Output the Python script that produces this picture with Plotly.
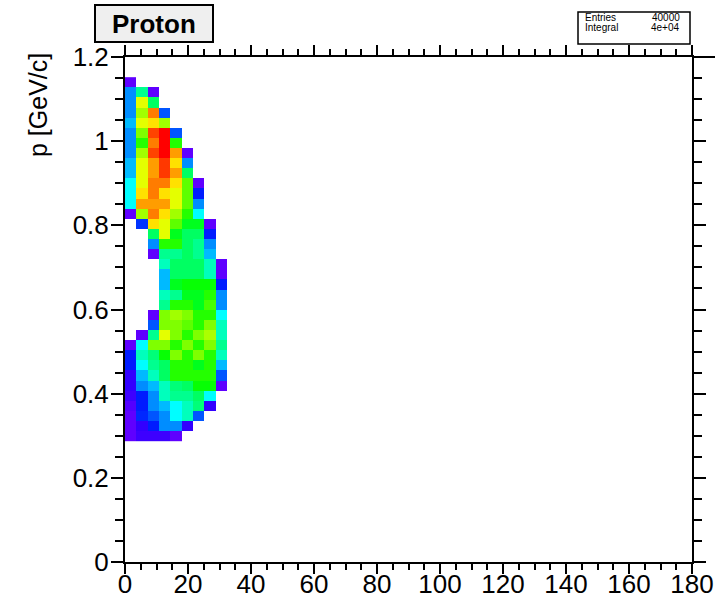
import colorsys
import plotly.graph_objects as go

# ---------------- data ----------------
x_edges_start = 0.0
x_bin_width = 3.6          # 50 bins over 0..180
y_bin_width = 0.024        # 50 bins over 0..1.2
first_y_bin = 12           # lowest filled row (bin index)
n_x_bins_shown = 9

N = None
# counts per cell, rows listed from the TOP row (bin 47) down to bin 12
counts_top_down = [
    [1, N, N, N, N, N, N, N, N],
    [22, 42, 1, N, N, N, N, N, N],
    [22, 75, 46, N, N, N, N, N, N],
    [22, 69, 89, 17, N, N, N, N, N],
    [26, 75, 80, 69, N, N, N, N, N],
    [22, 66, 94, 100, 17, N, N, N, N],
    [22, 58, 89, 100, 58, N, N, N, N],
    [22, 69, 94, 100, 86, 1, N, N, N],
    [26, 75, 86, 95, 80, 22, N, N, N],
    [26, 75, 86, 95, 86, 46, N, N, N],
    [32, 75, 89, 89, 80, 63, 1, N, N],
    [32, 80, 89, 80, 75, 63, 12, N, N],
    [32, 86, 86, 86, 75, 63, 22, N, N],
    [1, 69, 89, 80, 69, 58, 32, N, N],
    [N, 14, 80, 75, 63, 52, 52, 1, N],
    [N, N, 46, 75, 52, 46, 46, 12, N],
    [N, N, 22, 58, 58, 46, 42, 22, N],
    [N, N, 1, 42, 42, 46, 42, 26, N],
    [N, N, N, 38, 46, 46, 46, 38, 1],
    [N, N, N, 26, 46, 46, 46, 38, 1],
    [N, N, N, 26, 52, 55, 55, 55, 12],
    [N, N, N, 38, 42, 52, 52, 58, 22],
    [N, N, N, 42, 58, 58, 52, 61, 22],
    [N, N, 1, 66, 69, 66, 58, 58, 32],
    [N, N, 17, 66, 66, 63, 58, 66, 38],
    [N, 1, 42, 75, 66, 58, 66, 70, 38],
    [1, 32, 66, 66, 58, 66, 58, 66, 42],
    [12, 38, 44, 55, 66, 58, 66, 58, 38],
    [12, 32, 42, 46, 58, 58, 52, 58, 26],
    [5, 26, 38, 46, 58, 58, 58, 58, 17],
    [5, 22, 26, 38, 44, 46, 55, 55, 1],
    [4, 12, 22, 38, 42, 42, 46, 32, N],
    [2, 12, 22, 26, 32, 38, 44, 5, N],
    [1, 13, 17, 22, 32, 38, 17, N, N],
    [1, 5, 12, 22, 22, 5, N, N, N],
    [1, 4, 4, 4, 1, N, N, N, N],
]

title_text = "Proton"
y_title = "p [GeV/c]"
stats_labels = ["Entries", "Integral"]
stats_values = ["40000", "4e+04"]

x_range = [0, 180]
y_range = [0, 1.2]

# ---------------- build ----------------
z = list(reversed(counts_top_down))
n_rows = len(z)
x_centers = [x_edges_start + x_bin_width * (i + 0.5) for i in range(n_x_bins_shown)]
y_centers = [y_bin_width * (first_y_bin + j + 0.5) for j in range(n_rows)]

# ROOT-like "pretty palette": violet -> red by hue
colorscale = []
steps = 50
for k in range(steps + 1):
    t = k / steps
    hue = 265.0 * (1 - t) / 360.0
    r, g, b = colorsys.hls_to_rgb(hue, 0.5, 1.0)
    colorscale.append([t, f"rgb({int(r*255)},{int(g*255)},{int(b*255)})"])

W, H = 715, 603
L, R, T, B = 125, 23, 57, 41
pw = W - L - R
ph = H - T - B


def px(xp):
    return (xp - L) / pw


def py(yp):
    return 1 + (T - yp) / ph


fig = go.Figure()
fig.add_trace(go.Heatmap(
    x=x_centers, y=y_centers, z=z,
    colorscale=colorscale, zmin=0, zmax=100,
    showscale=False, hoverongaps=False, xgap=0, ygap=0,
))

tick_font = dict(family="Liberation Sans, Arial", size=26, color="black")

fig.update_xaxes(
    range=x_range, dtick=20, tick0=0, showgrid=False, zeroline=False,
    showline=True, linecolor="black", linewidth=2, mirror="ticks",
    ticks="outside", ticklen=10, tickwidth=2, tickcolor="black",
    minor=dict(dtick=5, ticks="outside", ticklen=6, tickwidth=1.5, tickcolor="black", showgrid=False),
    tickfont=tick_font, automargin=False, ticklabelstandoff=-12,
)
fig.update_yaxes(
    range=y_range, dtick=0.2, tick0=0, showgrid=False, zeroline=False,
    showline=True, linecolor="black", linewidth=2, mirror="ticks",
    ticks="outside", ticklen=12, tickwidth=2, tickcolor="black",
    minor=dict(dtick=0.05, ticks="outside", ticklen=8, tickwidth=1.5, tickcolor="black", showgrid=False),
    tickfont=tick_font, automargin=False, ticklabelstandoff=-3,
)

shapes = [
    # title box
    dict(type="rect", xref="paper", yref="paper",
         x0=px(95), x1=px(213), y0=py(42), y1=py(5),
         line=dict(color="black", width=2), fillcolor="#efefef", layer="above"),
    # stats box
    dict(type="rect", xref="paper", yref="paper",
         x0=px(578), x1=px(690), y0=py(44), y1=py(12),
         line=dict(color="black", width=1.5), fillcolor="white", layer="above"),
    # top frame line extension
    dict(type="line", xref="paper", yref="paper",
         x0=1, x1=px(715), y0=1, y1=1, line=dict(color="black", width=2)),
]

annotations = [
    dict(text=f"<b>{title_text}</b>", xref="paper", yref="paper",
         x=px(154), y=py(24), xanchor="center", yanchor="middle", showarrow=False,
         font=dict(family="Liberation Sans, Arial", size=26, color="black")),
    dict(text=y_title, xref="paper", yref="paper", textangle=-90,
         x=px(38), y=py(105), xanchor="center", yanchor="middle", showarrow=False,
         font=dict(family="Liberation Sans, Arial", size=25, color="black")),
]
for i, (lab, val) in enumerate(zip(stats_labels, stats_values)):
    yy = py(18 + 10 * i)
    annotations.append(dict(text=lab, xref="paper", yref="paper", x=px(583), y=yy,
                            xanchor="left", yanchor="middle", showarrow=False,
                            font=dict(family="Liberation Sans, Arial", size=10, color="black")))
    annotations.append(dict(text=val, xref="paper", yref="paper", x=px(682), y=yy,
                            xanchor="right", yanchor="middle", showarrow=False,
                            font=dict(family="Liberation Sans, Arial", size=10, color="black")))

fig.update_layout(
    width=W, height=H, autosize=False,
    margin=dict(l=L, r=R, t=T, b=B, pad=0),
    paper_bgcolor="white", plot_bgcolor="white",
    shapes=shapes, annotations=annotations, showlegend=False,
)

fig.write_html("out.html")
